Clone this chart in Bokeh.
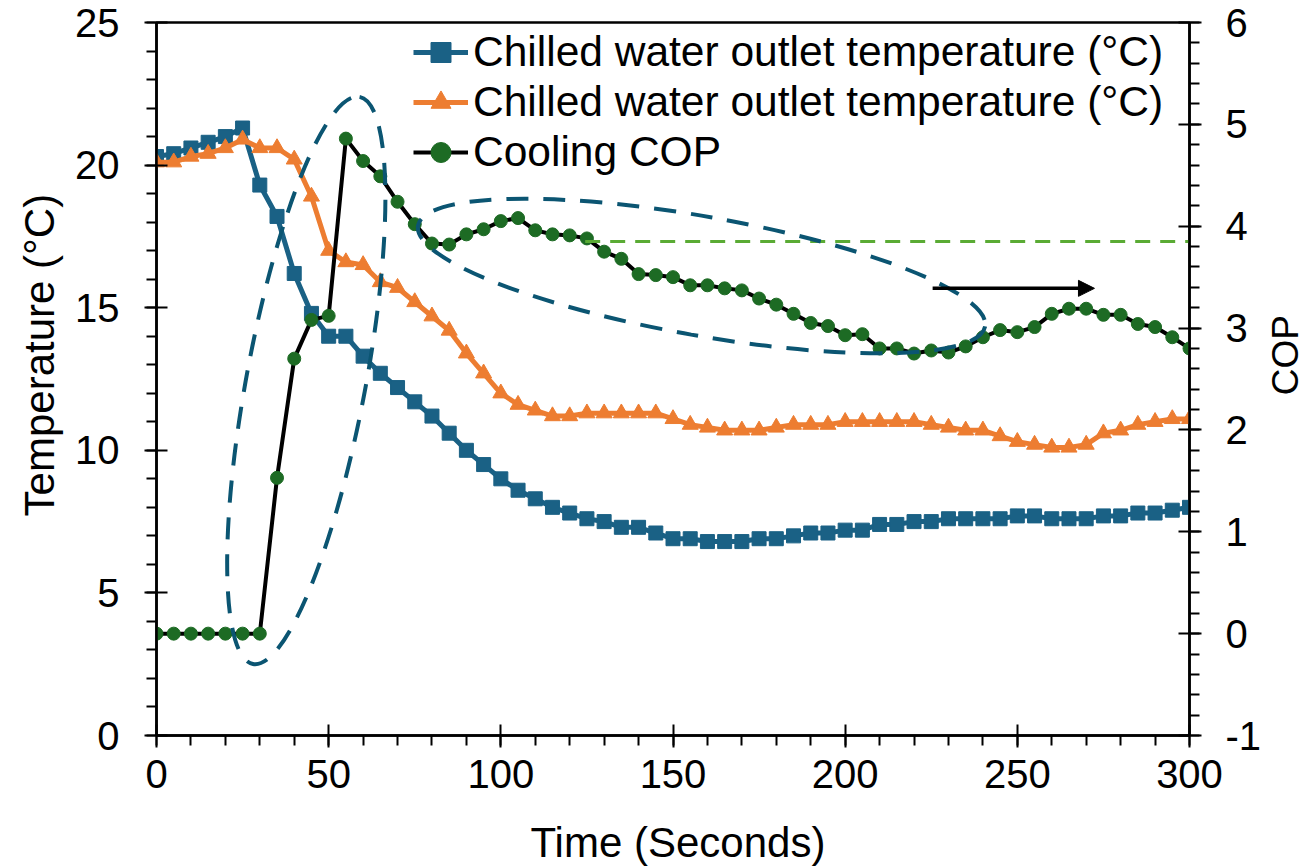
import math
from bokeh.plotting import figure
from bokeh.layouts import row, column
from bokeh.core.properties import value
from bokeh.models import (Range1d, LinearAxis, SingleIntervalTicker, Legend, LegendItem,
                          Arrow, NormalHead, CustomJSTickFormatter)
from bokeh.embed import file_html
from bokeh.resources import INLINE

# ---------------- data ----------------
time_s = [0, 5, 10, 15, 20, 25, 30, 35, 40, 45, 50, 55, 60, 65, 70, 75, 80, 85, 90, 95,
          100, 105, 110, 115, 120, 125, 130, 135, 140, 145, 150, 155, 160, 165, 170, 175,
          180, 185, 190, 195, 200, 205, 210, 215, 220, 225, 230, 235, 240, 245, 250, 255,
          260, 265, 270, 275, 280, 285, 290, 295, 300]

chilled_outlet_1 = [20.3, 20.4, 20.6, 20.8, 21.0, 21.3, 19.3, 18.2, 16.2, 14.8, 14.0, 14.0,
                    13.3, 12.7, 12.2, 11.7, 11.2, 10.6, 10.0, 9.5, 9.0, 8.6, 8.3, 8.0, 7.8,
                    7.6, 7.5, 7.3, 7.3, 7.1, 6.9, 6.9, 6.8, 6.8, 6.8, 6.9, 6.9, 7.0, 7.1,
                    7.1, 7.2, 7.2, 7.4, 7.4, 7.5, 7.5, 7.6, 7.6, 7.6, 7.6, 7.7, 7.7, 7.6,
                    7.6, 7.6, 7.7, 7.7, 7.8, 7.8, 7.9, 8.0]

chilled_outlet_2 = [20.1, 20.1, 20.3, 20.4, 20.6, 20.9, 20.6, 20.6, 20.2, 18.9, 17.0, 16.6,
                    16.5, 15.9, 15.7, 15.2, 14.7, 14.2, 13.4, 12.7, 12.0, 11.6, 11.4, 11.2,
                    11.2, 11.3, 11.3, 11.3, 11.3, 11.3, 11.1, 10.9, 10.8, 10.7, 10.7, 10.7,
                    10.8, 10.9, 10.9, 10.9, 11.0, 11.0, 11.0, 11.0, 11.0, 10.9, 10.8, 10.7,
                    10.7, 10.5, 10.3, 10.2, 10.1, 10.1, 10.2, 10.6, 10.7, 10.9, 11.0, 11.1,
                    11.1]

cooling_cop = [0, 0, 0, 0, 0, 0, 0, 1.53, 2.70, 3.08, 3.12, 4.86, 4.64, 4.49, 4.24, 4.02,
               3.83, 3.82, 3.92, 3.97, 4.05, 4.08, 3.96, 3.92, 3.91, 3.88, 3.75, 3.68, 3.53,
               3.52, 3.50, 3.42, 3.42, 3.39, 3.37, 3.29, 3.23, 3.14, 3.05, 3.02, 2.93, 2.94,
               2.80, 2.80, 2.75, 2.78, 2.76, 2.82, 2.91, 2.98, 2.96, 3.01, 3.14, 3.19, 3.19,
               3.13, 3.13, 3.04, 3.01, 2.91, 2.80]

ref_line_time = [124.5, 300]
ref_line_cop = [3.85, 3.85]

arrow_time = [225.4, 272.4]
arrow_cop = 3.39

ellipse_time = [43.5, 158.3]
ellipse_temp = [12.45, 16.11]
ellipse_w_px = [577, 576]
ellipse_h_px = [119, 119]
ellipse_angle = [1.385, -0.176]

legend_labels = ["Chilled water outlet temperature (\u00b0C)",
                 "Chilled water outlet temperature (\u00b0C)",
                 "Cooling COP"]
x_title = "Time (Seconds)"
left_title = "Temperature (\u00b0C)"
right_title = "COP"

FONT = "Liberation Sans"
BLUE = "#1a6185"
ORANGE = "#ed7d31"
GREEN = "#1d6b24"
TEAL = "#0b5572"
LGREEN = "#5aab34"

# ---------------- layout geometry (pixels) ----------------
TOTAL_W, TOTAL_H = 1306, 867
BOTTOM_H = 60                 # strip below holding the x title
TOP_H = TOTAL_H - BOTTOM_H
LEFT_W = 64                   # strip holding the left title
RIGHT_W = 42                  # strip holding the right title
MAIN_W = TOTAL_W - LEFT_W - RIGHT_W
FRAME_L, FRAME_R, FRAME_T, FRAME_B = 156, 1190, 22, 735


def strip(w, h):
    s = figure(width=w, height=h, output_backend="svg", toolbar_location=None,
               x_range=Range1d(0, w), y_range=Range1d(0, h), min_border=0,
               x_axis_type=None, y_axis_type=None)
    s.grid.visible = False
    s.outline_line_color = None
    s.background_fill_color = "white"
    s.border_fill_color = "white"
    return s


# ---------------- main figure ----------------
p = figure(width=MAIN_W, height=TOP_H, output_backend="svg", toolbar_location=None,
           x_range=Range1d(0, 300), y_range=Range1d(0, 25),
           min_border_left=FRAME_L - LEFT_W,
           min_border_right=(LEFT_W + MAIN_W) - FRAME_R,
           min_border_top=FRAME_T, min_border_bottom=TOP_H - FRAME_B)
p.extra_y_ranges = {"cop": Range1d(-1, 6)}
p.grid.visible = False
p.outline_line_color = "black"
p.outline_line_width = 2.5
p.outline_line_alpha = 1.0
p.background_fill_color = "white"
p.border_fill_color = "white"

right_axis = LinearAxis(y_range_name="cop",
                        ticker=SingleIntervalTicker(interval=1, num_minor_ticks=5),
                        formatter=CustomJSTickFormatter(code="return tick.toFixed(0)"))
p.add_layout(right_axis, "right")

p.xaxis[0].ticker = SingleIntervalTicker(interval=50, num_minor_ticks=5)
p.yaxis[0].ticker = SingleIntervalTicker(interval=5, num_minor_ticks=5)

for ax in [p.xaxis[0], p.yaxis[0], right_axis]:
    ax.axis_line_color = "black"
    ax.axis_line_width = 2.5
    ax.major_tick_line_color = "black"
    ax.major_tick_line_width = 2
    ax.major_tick_in = 11
    ax.major_tick_out = 12
    ax.minor_tick_line_color = "black"
    ax.minor_tick_line_width = 2
    ax.minor_tick_in = 0
    ax.minor_tick_out = 10
    ax.major_label_text_font = FONT
    ax.major_label_text_font_size = "40px"
    ax.major_label_text_color = "black"

p.xaxis[0].major_label_standoff = 12
p.yaxis[0].major_label_standoff = 25
right_axis.major_label_standoff = 24

# ---------------- series ----------------
b_line = p.line(time_s, chilled_outlet_1, line_color=BLUE, line_width=5, line_join="round")
b_mark = p.scatter(time_s, chilled_outlet_1, marker="square", size=14,
                   fill_color=BLUE, line_color=BLUE)
o_line = p.line(time_s, chilled_outlet_2, line_color=ORANGE, line_width=5, line_join="round")
o_mark = p.scatter(time_s, chilled_outlet_2, marker="triangle", size=16,
                   fill_color=ORANGE, line_color=ORANGE)
c_line = p.line(time_s, cooling_cop, line_color="black", line_width=4, line_join="round",
                y_range_name="cop")
c_mark = p.scatter(time_s, cooling_cop, marker="circle", size=13,
                   fill_color=GREEN, line_color=GREEN, y_range_name="cop")

p.line(ref_line_time, ref_line_cop, line_color=LGREEN, line_width=3, line_dash="15 10",
       y_range_name="cop")

p.ellipse(x=ellipse_time, y=ellipse_temp, width=ellipse_w_px, height=ellipse_h_px,
          angle=ellipse_angle, width_units="screen", height_units="screen",
          fill_color=None, line_color=TEAL, line_width=4, line_dash="22 15")

p.add_layout(Arrow(end=NormalHead(size=16, fill_color="black", line_color="black"),
                   x_start=arrow_time[0], y_start=arrow_cop,
                   x_end=arrow_time[1], y_end=arrow_cop, y_range_name="cop",
                   line_color="black", line_width=3.5))

legend = Legend(items=[LegendItem(label=legend_labels[0], renderers=[b_line, b_mark]),
                       LegendItem(label=legend_labels[1], renderers=[o_line, o_mark]),
                       LegendItem(label=legend_labels[2], renderers=[c_line, c_mark])],
                location=(257, 558), glyph_width=55, glyph_height=50, label_height=50,
                spacing=0, padding=0, margin=0, label_standoff=5,
                label_text_font=FONT, label_text_font_size="42.5px",
                label_text_color="black", background_fill_alpha=0,
                border_line_alpha=0)
p.add_layout(legend)

# ---------------- title strips ----------------
left = strip(LEFT_W, TOP_H)
left.text(x=[39], y=[TOP_H - 559], text=[left_title], angle=math.pi / 2,
          text_align="left", text_baseline="middle", text_font=value(FONT),
          text_font_size=value("42px"), text_color="black")

right = strip(RIGHT_W, TOP_H)
right.text(x=[1285 - (LEFT_W + MAIN_W)], y=[TOP_H - 422], text=[right_title],
           angle=math.pi / 2, text_align="left", text_baseline="middle",
           text_font=value(FONT), text_font_size=value("37px"), text_color="black")

bottom = strip(TOTAL_W, BOTTOM_H)
bottom.text(x=[530], y=[TOTAL_H - 842], text=[x_title], angle=0,
            text_align="left", text_baseline="middle", text_font=value(FONT),
            text_font_size=value("42px"), text_color="black")

layout = column(row(left, p, right, spacing=0), bottom, spacing=0)
open("out.html", "w").write(file_html(layout, INLINE))
